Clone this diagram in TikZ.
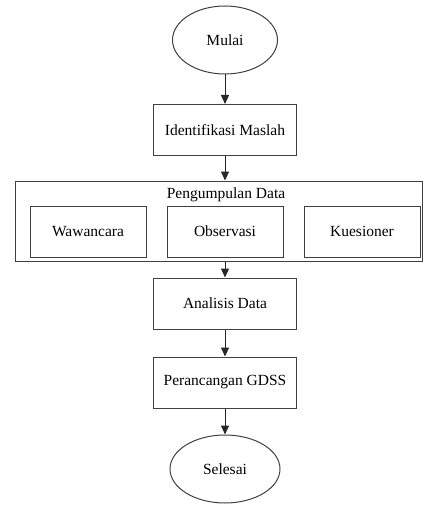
\documentclass[tikz,border=0pt]{standalone}
\usepackage{fontspec}
\setmainfont{Liberation Serif}
\usetikzlibrary{shapes.geometric,arrows.meta}
\begin{document}
\begin{tikzpicture}[x=1pt,y=-1pt,
  line/.style={draw=black!75,line width=1pt},
  term/.style={ellipse,line,inner sep=0pt,font=\fontsize{15.5}{18}\selectfont},
  procbox/.style={rectangle,line,inner sep=0pt,minimum width=143pt,minimum height=51pt,font=\fontsize{15.5}{18}\selectfont},
  subbox/.style={rectangle,line,inner sep=0pt,minimum width=116pt,minimum height=51pt,font=\fontsize{15.5}{18}\selectfont},
  arr/.style={draw=black!85,line width=1pt,-{Triangle[length=9pt,width=8pt]}}]
\useasboundingbox (0,0) rectangle (424,505);
\node[term,minimum width=105pt,minimum height=68pt] (mulai) at (225,40) {Mulai};
\node[procbox] (ident) at (225,130) {Identifikasi Maslah};
\node[rectangle,line,minimum width=407pt,minimum height=80pt,inner sep=0pt] (outer) at (218.5,221) {};
\node[font=\fontsize{15.5}{18}\selectfont,inner sep=0pt] (title) at (226,195) {Pengumpulan Data};
\node[subbox] (waw) at (88,231.5) {Wawancara};
\node[subbox] (obs) at (225,231.5) {Observasi};
\node[subbox] (kue) at (362,231.5) {Kuesioner};
\node[procbox] (anal) at (225,303.5) {Analisis Data};
\node[procbox] (peran) at (225,382.5) {Perancangan GDSS};
\node[term,minimum width=110pt,minimum height=68pt] (selesai) at (225,469) {Selesai};
\draw[arr] (mulai) -- (ident);
\draw[arr] (ident) -- (ident |- outer.north);
\draw[arr] (outer.south -| anal) -- (anal);
\draw[arr] (anal) -- (peran);
\draw[arr] (peran) -- (selesai);
\end{tikzpicture}
\end{document}
